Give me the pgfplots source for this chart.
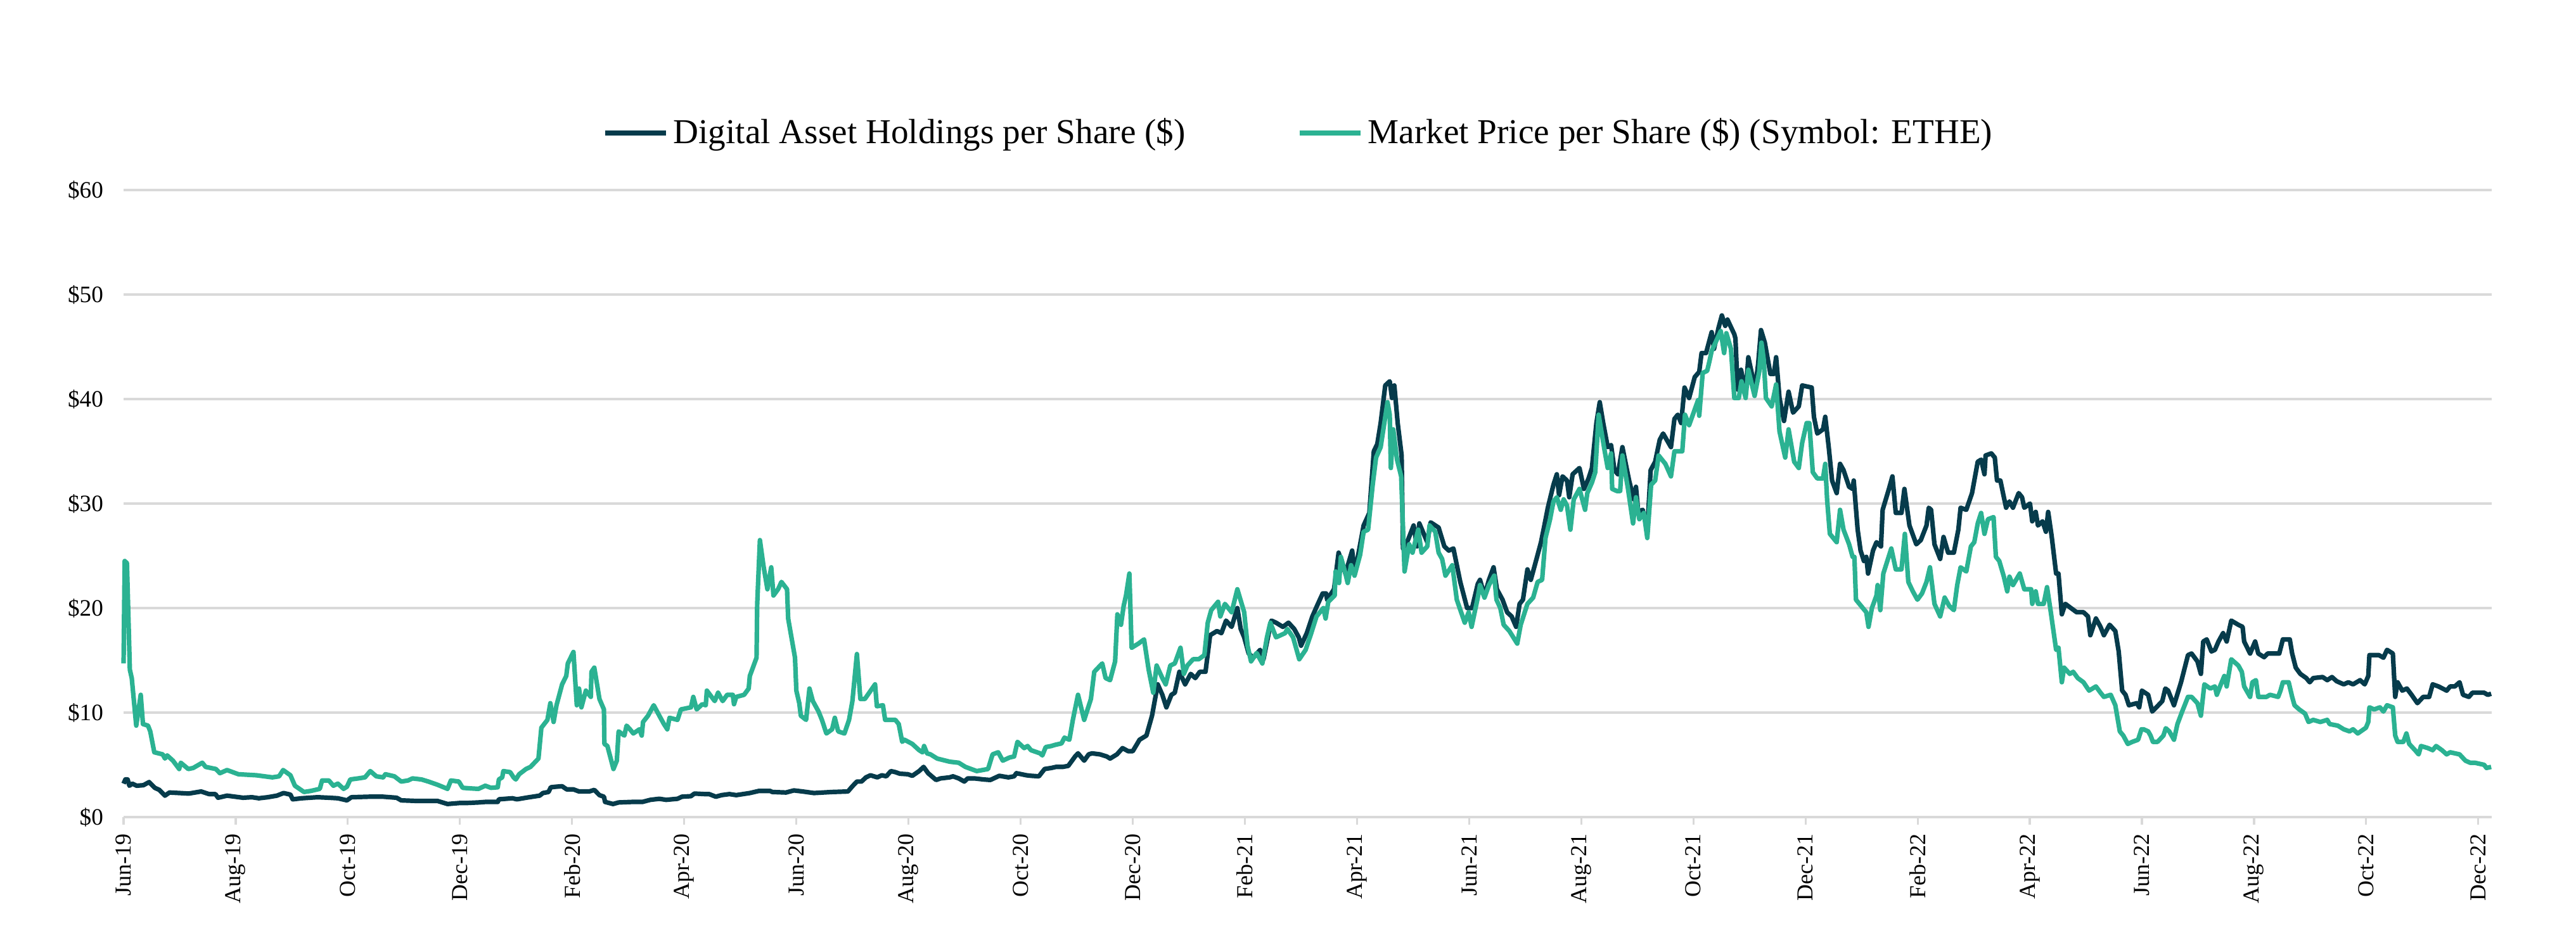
\documentclass[border=0pt]{standalone}
\usepackage{fontspec}
\setmainfont{Liberation Serif}
\usepackage{pgfplots}
\usepackage{pgfplotstable}
\pgfplotsset{compat=1.18}
\definecolor{navy}{HTML}{063B4B}
\definecolor{tealc}{HTML}{2BB292}
\definecolor{gridc}{HTML}{D9D9D9}

\pgfplotstableread{
t v
0 3.2
0.016 3.6
0.036 3.6
0.052 3.0
0.077 3.2
0.117 3.0
0.177 3.05
0.228 3.35
0.278 2.8
0.319 2.6
0.369 2.05
0.409 2.35
0.500 2.3
0.581 2.25
0.692 2.45
0.762 2.2
0.819 2.2
0.843 1.85
0.923 2.05
1.065 1.85
1.145 1.9
1.206 1.8
1.286 1.9
1.367 2.05
1.427 2.3
1.488 2.15
1.508 1.7
1.589 1.8
1.730 1.9
1.831 1.85
1.911 1.8
1.992 1.6
2.032 1.9
2.194 1.95
2.315 1.95
2.435 1.85
2.476 1.6
2.597 1.55
2.798 1.55
2.889 1.25
3.000 1.35
3.065 1.35
3.165 1.4
3.226 1.45
3.337 1.45
3.347 1.7
3.468 1.8
3.508 1.7
3.589 1.85
3.649 1.95
3.710 2.05
3.740 2.3
3.790 2.4
3.810 2.85
3.851 2.9
3.911 2.95
3.952 2.65
4.012 2.65
4.062 2.45
4.153 2.45
4.198 2.6
4.244 2.1
4.284 1.95
4.294 1.45
4.365 1.25
4.415 1.4
4.536 1.45
4.627 1.45
4.698 1.65
4.778 1.75
4.839 1.65
4.940 1.75
4.980 1.95
5.060 2.0
5.091 2.25
5.181 2.2
5.222 2.2
5.282 1.95
5.333 2.1
5.403 2.2
5.464 2.1
5.524 2.2
5.585 2.3
5.665 2.5
5.766 2.5
5.786 2.4
5.907 2.35
5.978 2.55
6.056 2.45
6.157 2.3
6.319 2.4
6.460 2.45
6.500 2.95
6.540 3.4
6.581 3.4
6.621 3.8
6.661 4.0
6.722 3.8
6.762 4.0
6.802 3.9
6.843 4.4
6.883 4.3
6.923 4.15
6.994 4.1
7.034 3.95
7.095 4.4
7.135 4.8
7.175 4.2
7.246 3.55
7.286 3.7
7.367 3.8
7.397 3.9
7.448 3.7
7.498 3.4
7.528 3.7
7.589 3.7
7.669 3.6
7.730 3.55
7.770 3.75
7.810 3.95
7.891 3.8
7.942 3.9
7.962 4.2
8.052 4.0
8.093 3.95
8.163 3.9
8.214 4.6
8.274 4.7
8.315 4.8
8.375 4.8
8.425 4.9
8.486 5.8
8.512 6.1
8.567 5.4
8.607 6.0
8.637 6.1
8.708 6.0
8.768 5.8
8.798 5.6
8.859 6.0
8.909 6.6
8.960 6.3
9.000 6.3
9.061 7.4
9.122 7.8
9.172 9.7
9.223 12.7
9.264 11.7
9.300 10.5
9.345 11.7
9.375 11.9
9.416 13.9
9.467 12.7
9.517 13.7
9.558 13.3
9.598 13.9
9.649 13.9
9.690 17.4
9.751 17.8
9.791 17.6
9.832 18.8
9.882 18.2
9.933 20.0
9.963 18.0
9.994 17.2
10.034 15.65
10.075 15.25
10.136 16.0
10.166 15.1
10.213 17.6
10.237 18.8
10.278 18.6
10.339 18.2
10.389 18.6
10.440 18.0
10.481 17.2
10.501 16.4
10.552 17.6
10.602 19.2
10.643 20.2
10.694 21.4
10.724 21.4
10.734 20.8
10.795 21.8
10.836 25.3
10.897 23.3
10.957 25.5
10.978 23.3
11.018 25.5
11.059 27.9
11.110 29.1
11.150 35.0
11.181 35.7
11.211 37.7
11.252 41.3
11.292 41.7
11.312 40.1
11.333 41.3
11.363 37.7
11.398 34.6
11.410 25.7
11.454 26.5
11.505 27.9
11.535 25.9
11.556 28.1
11.627 26.3
11.657 28.2
11.728 27.7
11.779 25.9
11.819 25.5
11.860 25.7
11.921 22.5
11.982 20.0
12.026 20.0
12.077 22.3
12.097 22.7
12.137 21.2
12.177 22.7
12.218 23.9
12.248 21.8
12.298 20.8
12.339 19.6
12.379 19.2
12.419 18.2
12.450 20.4
12.480 20.8
12.520 23.7
12.550 22.7
12.601 24.7
12.641 26.3
12.671 27.9
12.702 29.6
12.752 31.8
12.782 32.8
12.802 30.8
12.833 32.6
12.873 32.2
12.893 30.6
12.923 32.8
12.984 33.4
13.024 31.4
13.065 32.4
13.095 33.4
13.135 37.7
13.165 39.7
13.196 37.7
13.236 35.4
13.266 35.6
13.296 33.2
13.327 32.8
13.367 35.4
13.427 32.2
13.468 30.4
13.488 31.6
13.508 29.2
13.548 29.4
13.589 27.5
13.619 33.2
13.659 34.0
13.700 36.1
13.730 36.7
13.800 35.4
13.831 38.1
13.861 38.5
13.891 37.7
13.921 41.1
13.962 40.1
14.012 42.1
14.052 42.6
14.073 44.4
14.113 44.4
14.163 46.4
14.184 44.8
14.224 46.8
14.254 48.0
14.284 47.0
14.304 47.6
14.365 46.2
14.375 45.8
14.395 40.9
14.425 42.8
14.466 40.5
14.490 44.0
14.526 42.2
14.550 40.9
14.577 43.3
14.603 46.6
14.637 45.4
14.687 42.4
14.718 42.4
14.738 44.0
14.768 40.1
14.808 37.9
14.849 40.7
14.889 38.7
14.940 39.3
14.970 41.3
15.055 41.1
15.075 38.3
15.105 36.7
15.156 37.1
15.176 38.3
15.207 35.4
15.237 32.2
15.278 31.0
15.308 33.8
15.339 33.2
15.389 31.6
15.420 31.4
15.430 32.2
15.465 27.5
15.491 25.5
15.521 24.5
15.542 24.9
15.558 23.3
15.602 25.5
15.633 26.3
15.673 25.9
15.688 29.4
15.744 31.4
15.775 32.6
15.805 29.1
15.856 29.1
15.882 31.4
15.927 27.9
15.988 26.1
16.028 26.5
16.079 27.9
16.099 29.6
16.120 29.4
16.150 26.1
16.201 24.7
16.231 26.8
16.272 25.3
16.323 25.3
16.363 27.5
16.383 29.6
16.434 29.4
16.485 31.0
16.536 34.0
16.566 34.2
16.596 32.8
16.606 34.6
16.657 34.8
16.688 34.4
16.708 32.2
16.738 32.2
16.769 30.6
16.789 29.6
16.819 30.2
16.850 29.6
16.901 31.0
16.931 30.6
16.951 29.6
17.002 30.0
17.022 28.3
17.053 29.2
17.073 27.9
17.114 28.3
17.144 27.3
17.164 29.2
17.195 26.9
17.235 23.3
17.256 23.3
17.286 19.4
17.317 20.4
17.367 20.0
17.418 19.6
17.479 19.6
17.519 19.2
17.540 17.4
17.590 19.0
17.631 18.2
17.661 17.4
17.712 18.4
17.763 17.8
17.793 15.85
17.824 12.1
17.854 11.7
17.884 10.7
17.955 10.9
17.976 10.5
18.000 12.1
18.056 11.7
18.092 10.1
18.129 10.5
18.182 11.1
18.209 12.3
18.234 12.1
18.286 10.7
18.349 12.9
18.411 15.5
18.443 15.65
18.495 14.9
18.526 13.7
18.547 16.8
18.578 17.0
18.620 15.85
18.651 16.0
18.683 16.8
18.724 17.6
18.756 16.8
18.797 18.8
18.860 18.4
18.898 18.2
18.912 16.8
18.965 15.65
19.010 16.8
19.038 15.65
19.090 15.3
19.121 15.65
19.225 15.65
19.257 17.0
19.319 17.0
19.340 15.65
19.372 14.3
19.413 13.7
19.466 13.3
19.497 12.9
19.528 13.3
19.612 13.4
19.653 13.1
19.695 13.4
19.737 13.0
19.800 12.7
19.841 12.9
19.883 12.7
19.946 13.1
19.987 12.7
20.019 13.5
20.029 15.5
20.113 15.5
20.154 15.25
20.186 16.0
20.238 15.65
20.259 11.5
20.280 12.9
20.322 12.1
20.363 12.3
20.405 11.7
20.457 10.9
20.509 11.5
20.562 11.5
20.593 12.7
20.645 12.5
20.718 12.1
20.749 12.5
20.791 12.5
20.833 12.9
20.864 11.7
20.916 11.5
20.948 11.9
21.052 11.9
21.084 11.7
21.115 11.8
}\holdings

\pgfplotstableread{
t v
0 14.7
0.010 24.5
0.030 24.3
0.056 14.1
0.073 13.3
0.113 8.75
0.153 11.7
0.173 8.9
0.218 8.75
0.238 8.2
0.274 6.2
0.349 6.0
0.369 5.6
0.389 5.9
0.440 5.4
0.496 4.6
0.510 5.2
0.577 4.6
0.621 4.7
0.702 5.2
0.732 4.8
0.823 4.6
0.859 4.2
0.923 4.5
1.024 4.1
1.185 4.0
1.327 3.8
1.387 3.9
1.423 4.5
1.488 4.0
1.528 3.0
1.609 2.4
1.669 2.5
1.750 2.7
1.770 3.5
1.831 3.5
1.871 3.0
1.911 3.2
1.962 2.7
1.992 2.9
2.022 3.6
2.093 3.7
2.153 3.8
2.200 4.4
2.254 3.9
2.315 3.8
2.335 4.1
2.415 3.9
2.476 3.4
2.536 3.5
2.577 3.7
2.657 3.6
2.718 3.4
2.798 3.1
2.889 2.7
2.919 3.5
2.990 3.4
3.024 2.8
3.085 2.75
3.165 2.7
3.226 3.0
3.276 2.8
3.337 2.85
3.347 3.6
3.377 3.8
3.387 4.4
3.448 4.3
3.478 3.8
3.498 3.6
3.528 4.1
3.589 4.6
3.629 4.8
3.700 5.6
3.726 8.55
3.780 9.3
3.806 10.9
3.835 9.1
3.861 10.7
3.911 12.7
3.948 13.5
3.962 14.7
4.012 15.8
4.042 10.7
4.062 12.3
4.083 10.5
4.123 12.1
4.167 11.5
4.173 13.9
4.198 14.3
4.244 11.3
4.284 10.3
4.288 7.0
4.315 6.8
4.369 4.6
4.399 5.4
4.415 8.2
4.466 7.8
4.486 8.75
4.516 8.4
4.546 8.0
4.601 8.4
4.621 7.8
4.633 9.1
4.677 9.7
4.728 10.7
4.778 9.7
4.819 8.9
4.849 8.4
4.869 9.5
4.940 9.3
4.970 10.3
5.060 10.5
5.081 11.5
5.111 10.3
5.161 10.8
5.192 10.7
5.202 12.1
5.272 11.1
5.302 11.9
5.343 11.1
5.383 11.7
5.433 11.7
5.444 10.8
5.464 11.5
5.534 11.7
5.575 12.3
5.585 13.5
5.645 15.25
5.651 20.4
5.675 26.5
5.706 24.1
5.742 21.8
5.776 23.9
5.796 21.2
5.837 21.8
5.867 22.5
5.917 21.8
5.927 19.0
5.988 15.25
6.000 12.1
6.026 10.9
6.040 9.7
6.087 9.3
6.117 12.3
6.147 11.1
6.198 10.1
6.228 9.3
6.268 8.0
6.319 8.4
6.343 9.5
6.373 8.2
6.429 8.0
6.470 9.3
6.500 11.1
6.540 15.6
6.571 11.3
6.611 11.3
6.702 12.7
6.718 10.6
6.772 10.7
6.792 9.3
6.883 9.3
6.913 8.9
6.944 7.2
6.964 7.4
7.034 7.0
7.095 6.4
7.125 6.2
7.139 6.8
7.165 6.1
7.196 6.0
7.256 5.6
7.367 5.3
7.448 5.2
7.508 4.8
7.609 4.4
7.710 4.6
7.750 6.0
7.800 6.2
7.841 5.4
7.901 5.7
7.942 5.8
7.972 7.2
8.032 6.6
8.062 6.8
8.093 6.4
8.173 6.1
8.194 5.9
8.224 6.7
8.274 6.8
8.304 6.9
8.365 7.05
8.391 7.6
8.435 7.4
8.466 9.3
8.512 11.7
8.567 9.3
8.627 11.3
8.657 13.9
8.728 14.7
8.758 13.3
8.798 13.1
8.843 14.9
8.863 19.4
8.895 18.4
8.919 20.2
8.940 21.2
8.970 23.3
8.990 16.2
9.051 16.6
9.101 17.0
9.142 14.1
9.183 11.9
9.213 14.5
9.264 13.3
9.294 12.7
9.335 14.5
9.375 14.7
9.426 16.2
9.456 13.7
9.487 14.5
9.538 15.1
9.588 15.1
9.639 15.5
9.669 18.6
9.700 19.8
9.761 20.6
9.781 19.2
9.822 20.4
9.882 19.6
9.933 21.8
9.994 19.6
10.024 16.4
10.055 14.9
10.105 15.7
10.156 14.7
10.197 17.2
10.227 18.6
10.278 17.2
10.359 17.6
10.379 18.0
10.430 17.2
10.485 15.1
10.542 16.0
10.592 17.6
10.639 19.2
10.700 20.0
10.720 19.0
10.744 20.6
10.801 21.2
10.809 23.5
10.840 22.4
10.856 24.9
10.897 23.3
10.917 22.4
10.947 24.1
10.978 23.1
11.028 25.1
11.059 27.3
11.099 27.5
11.140 31.8
11.170 34.4
11.211 35.4
11.272 39.7
11.292 38.5
11.302 33.4
11.323 37.1
11.357 34.2
11.394 32.6
11.424 23.5
11.465 26.1
11.495 25.3
11.546 27.5
11.576 25.3
11.627 25.9
11.647 27.9
11.698 27.3
11.728 25.3
11.759 24.7
11.789 23.1
11.850 24.1
11.890 20.8
11.961 18.6
11.996 19.6
12.022 18.2
12.077 21.0
12.097 22.2
12.137 21.0
12.177 22.2
12.224 23.1
12.244 20.8
12.278 20.0
12.308 18.4
12.359 17.8
12.429 16.6
12.460 18.4
12.520 20.4
12.571 21.0
12.611 22.5
12.651 22.7
12.681 26.7
12.722 28.5
12.752 30.2
12.782 30.6
12.817 29.4
12.843 30.4
12.873 29.8
12.903 27.5
12.933 30.4
12.984 31.4
13.034 29.4
13.054 31.0
13.095 32.0
13.125 33.0
13.155 38.5
13.206 35.2
13.236 33.4
13.266 34.8
13.276 31.4
13.317 31.2
13.347 31.2
13.367 34.6
13.417 31.4
13.462 28.1
13.488 30.6
13.518 28.5
13.558 29.1
13.589 26.7
13.623 31.8
13.659 32.2
13.690 34.6
13.750 33.8
13.800 32.6
13.831 35.0
13.901 35.0
13.925 38.5
13.962 37.5
14.002 38.7
14.042 39.9
14.052 38.4
14.083 42.5
14.123 42.7
14.143 43.6
14.163 44.6
14.214 45.8
14.244 46.5
14.274 44.4
14.294 46.3
14.335 44.8
14.365 40.1
14.405 40.1
14.429 41.7
14.466 40.1
14.490 42.8
14.546 40.3
14.587 42.6
14.607 45.4
14.627 43.8
14.647 40.1
14.698 39.3
14.738 41.4
14.768 36.9
14.819 34.4
14.849 37.1
14.899 34.0
14.940 33.4
14.970 35.8
15.010 37.7
15.034 37.7
15.065 33.0
15.105 32.4
15.156 32.4
15.176 33.8
15.193 30.3
15.217 27.1
15.278 26.3
15.308 29.4
15.339 27.5
15.389 26.1
15.420 24.9
15.436 24.9
15.450 20.8
15.511 20.0
15.542 19.6
15.562 18.2
15.592 20.0
15.633 21.2
15.643 22.2
15.667 19.8
15.694 23.3
15.765 25.7
15.805 23.7
15.856 23.7
15.886 27.1
15.917 22.5
15.957 21.6
15.998 20.8
16.039 21.4
16.079 22.5
16.110 23.9
16.150 20.4
16.201 19.2
16.241 21.0
16.282 20.2
16.323 19.8
16.353 22.2
16.383 23.9
16.434 23.5
16.475 25.9
16.505 26.3
16.536 28.1
16.566 29.1
16.596 27.1
16.627 28.5
16.677 28.7
16.698 24.9
16.728 24.5
16.769 23.0
16.799 21.6
16.819 23.0
16.850 22.2
16.911 23.3
16.951 21.8
17.012 21.8
17.022 20.4
17.053 21.6
17.073 20.4
17.124 20.4
17.154 22.0
17.185 19.8
17.235 16.0
17.256 16.2
17.286 12.9
17.306 14.3
17.357 13.7
17.387 13.9
17.428 13.3
17.479 12.9
17.529 12.1
17.590 12.5
17.631 11.9
17.661 11.5
17.722 11.7
17.763 10.7
17.803 8.2
17.834 7.8
17.874 7.0
17.915 7.2
17.966 7.4
17.996 8.4
18.015 8.4
18.056 8.2
18.077 7.8
18.098 7.2
18.140 7.2
18.192 7.8
18.213 8.5
18.244 8.2
18.286 7.4
18.317 8.9
18.359 10.1
18.411 11.5
18.443 11.5
18.495 10.9
18.526 9.7
18.557 12.7
18.610 12.3
18.651 12.5
18.668 11.7
18.704 12.7
18.735 13.5
18.756 12.5
18.797 15.1
18.839 14.7
18.860 14.5
18.891 13.9
18.912 12.5
18.965 11.5
18.985 12.9
19.017 13.1
19.038 11.5
19.111 11.5
19.142 11.7
19.215 11.5
19.236 12.1
19.257 12.9
19.309 12.9
19.340 11.5
19.361 10.7
19.403 10.3
19.455 9.9
19.486 9.1
19.528 9.3
19.591 9.1
19.653 9.3
19.674 8.9
19.747 8.75
19.800 8.4
19.852 8.2
19.883 8.4
19.925 8.0
19.998 8.55
20.019 9.1
20.029 10.5
20.071 10.3
20.123 10.5
20.154 10.1
20.186 10.7
20.238 10.5
20.259 7.8
20.280 7.2
20.332 7.2
20.359 8.0
20.384 7.0
20.436 6.4
20.468 6.0
20.489 6.8
20.551 6.6
20.593 6.4
20.624 6.8
20.676 6.4
20.718 6.0
20.749 6.2
20.833 6.0
20.885 5.4
20.927 5.2
20.969 5.2
21.052 5.0
21.073 4.7
21.115 4.8
}\market

\begin{document}
\begin{tikzpicture}
\path[use as bounding box] (0,0) rectangle (1016.25pt,368.25pt);
\begin{axis}[
  at={(48.75pt,45.75pt)}, anchor=south west,
  scale only axis, width=934.25pt, height=247.5pt,
  xmin=0, xmax=21.12, ymin=0, ymax=60,
  xtick={0,...,21},
  xticklabels={Jun-19,Aug-19,Oct-19,Dec-19,Feb-20,Apr-20,Jun-20,Aug-20,Oct-20,Dec-20,Feb-21,Apr-21,Jun-21,Aug-21,Oct-21,Dec-21,Feb-22,Apr-22,Jun-22,Aug-22,Oct-22,Dec-22},
  ytick={0,10,...,60},
  yticklabels={\$0,\$10,\$20,\$30,\$40,\$50,\$60},
  axis line style={draw=none},
  ymajorgrids, grid style={draw=gridc, line width=0.8pt},
  xtick pos=left, ytick pos=left,
  tick align=outside,
  major tick length=3pt,
  xtick style={draw=gridc, line width=0.8pt},
  ytick style={draw=none},
  xticklabel style={rotate=90, anchor=east, font=\fontsize{9}{11}\selectfont},
  yticklabel style={font=\fontsize{9.3}{11}\selectfont, xshift=-1.5pt},
  clip=false,
  legend columns=2,
  legend style={draw=none, fill=none, at={(0.5,1)}, anchor=center, yshift=22.5pt, xshift=-3pt,
    font=\fontsize{13.8}{16}\selectfont,
    /tikz/every even column/.append style={column sep=42pt}},
  legend image code/.code={\draw[#1, line width=2pt] (0pt,0pt) -- (24pt,0pt);},
]
\addplot[navy, line width=1.8pt, line join=round] table[x=t, y=v] {\holdings};
\addlegendentry{Digital Asset Holdings per Share (\$)}
\addplot[tealc, line width=1.8pt, line join=round] table[x=t, y=v] {\market};
\addlegendentry{Market Price per Share (\$) (Symbol: ETHE)}
\end{axis}
\end{tikzpicture}
\end{document}
